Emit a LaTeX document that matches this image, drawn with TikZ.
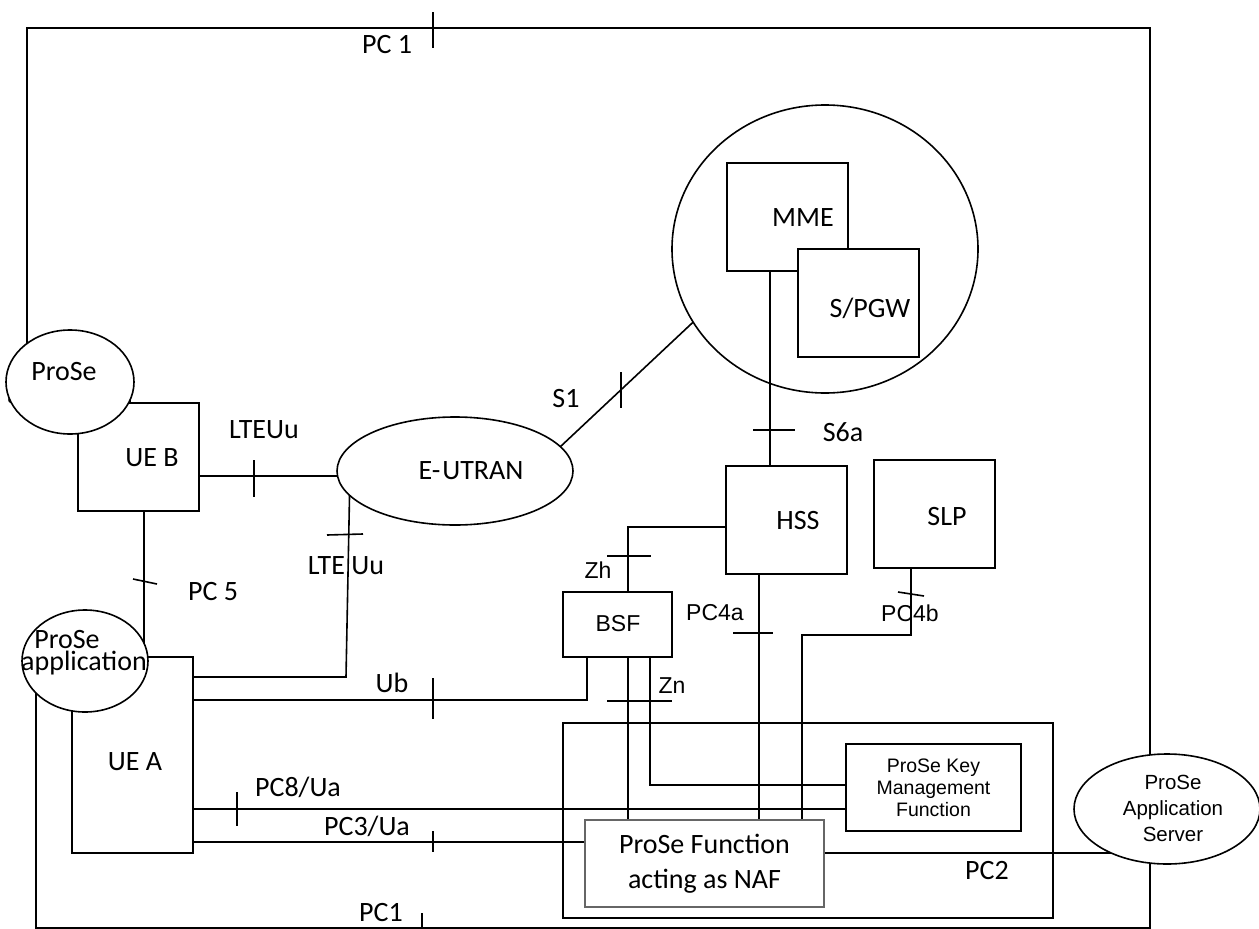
\documentclass[tikz,border=0pt]{standalone}
\usepackage{fontspec}
\setmainfont{Carlito}
\newfontfamily\arialf{Liberation Sans}
\usetikzlibrary{shapes.geometric}
\pgfdeclarelayer{bg}
\pgfsetlayers{bg,main}
\begin{document}
\begin{tikzpicture}[x=1pt,y=-1pt,
  every node/.style={inner sep=0pt,outer sep=0pt},
  conn/.style={line width=1.6pt},
  tickmark/.style={line width=1.6pt},
  boxnode/.style={draw,line width=1.6pt,fill=white,rectangle,inner sep=0pt},
  ellnode/.style={draw,line width=1.6pt,fill=white,ellipse,inner sep=0pt},
  cal/.style={font=\fontsize{28}{30}\selectfont},
  ar/.style={font=\arialf\fontsize{23}{26}\selectfont}]
\useasboundingbox (0,0) rectangle (1259,929);

% UE B with its ProSe application
\node[cal,anchor=base] (appBtxt) at (70,403) {application};
\node[boxnode,minimum width=121pt,minimum height=108pt] (ueb) at (138.5,457) {};
\node[ellnode,minimum width=128pt,minimum height=104pt] (ellB) at (70,382) {};
\node[cal,anchor=base] (proseB) at (64,380) {ProSe};
\node[cal] (uebtxt) at (152,458) {UE B};

% UE A with its ProSe application
\node[boxnode,minimum width=121pt,minimum height=196pt] (uea) at (132.5,755) {};
\node[ellnode,minimum width=126pt,minimum height=102pt] (ellA) at (85,661) {};
\node[cal,anchor=base] (proseA) at (67,648) {ProSe};
\node[cal,anchor=base] (appA) at (84,670) {application};
\node[cal] (ueatxt) at (135,762) {UE A};

% E-UTRAN
\node[ellnode,minimum width=236pt,minimum height=108pt] (eutran) at (455,471) {};
\node[cal] (eutrantxt) at (471,471) {E-\kern2pt UTRAN};

% core network
\node[draw,ellipse,line width=1.6pt,inner sep=0pt,minimum width=306pt,minimum height=288pt] (core) at (825,249) {};
\node[boxnode,minimum width=121pt,minimum height=108pt] (mme) at (787.5,217) {};
\node[cal] (mmetxt) at (803,218) {MME};
\node[boxnode,minimum width=121pt,minimum height=108pt] (spgw) at (858.5,303) {};
\node[cal] (spgwtxt) at (870,308) {S/PGW};

% HSS, SLP, BSF
\node[boxnode,minimum width=121pt,minimum height=108pt] (hss) at (786.5,520) {};
\node[cal] (hsstxt) at (798,521) {HSS};
\node[boxnode,minimum width=121pt,minimum height=108pt] (slp) at (934.5,514) {};
\node[cal] (slptxt) at (947,517) {SLP};
\node[boxnode,minimum width=109pt,minimum height=65pt] (bsf) at (617.5,624.5) {};
\node[ar] (bsftxt) at (618,624) {BSF};

% ProSe function container
\node[draw,rectangle,line width=1.6pt,minimum width=490pt,minimum height=195pt] (cont) at (808,820.5) {};
\node[boxnode,minimum width=175pt,minimum height=87pt,align=center,font=\arialf\fontsize{19.5}{22}\selectfont] (pkmf) at (933.5,787.5) {ProSe Key\\Management\\Function};
\node[boxnode,draw=gray!80!black,line width=1.2pt,minimum width=239pt,minimum height=87pt,align=center,font=\fontsize{28}{35}\selectfont] (pf) at (704.5,863.5) {ProSe Function\\acting as NAF};

% application server
\node[ellnode,minimum width=186pt,minimum height=110pt] (as) at (1167,809) {};
\node[align=center,font=\arialf\fontsize{20.5}{26}\selectfont] (astxt) at (1173,808) {ProSe\\Application\\Server};

\coordinate (c1tr) at (1150,28);
\coordinate (c1br) at (1150,928);
\coordinate (c4b) at (802,635);
\coordinate (uu2) at (346,677);

\begin{pgfonlayer}{bg}
\draw[conn] (ellB.center -| 27,0) |- (c1tr) -- (as.center -| c1tr);
\draw[conn] (ellA.center -| 36,0) |- (c1br) -- (as.center -| c1br);
\draw[conn] (ueb.east |- 0,476) -- (eutran.center |- 0,476);
\draw[conn] (uea.east |- uu2) -- (uu2) -- (eutran.center -| 350,0);
\draw[conn] (eutran.13) -- (core.209);
\draw[conn] (mme.south -| 770,0) -- (hss.north -| 770,0);
\draw[conn] (hss.west |- 0,527) -| (bsf.north -| 628,0);
\draw[conn] (bsf.south -| 587,0) |- (uea.east |- 0,700);
\draw[conn] (bsf.south -| 628,0) -- (pf.north -| 628,0);
\draw[conn] (bsf.south -| 650,0) |- (pkmf.west |- 0,785);
\draw[conn] (hss.south -| 759,0) -- (pf.north -| 759,0);
\draw[conn] (slp.south -| 911,0) |- (c4b) -- (pf.north -| c4b);
\draw[conn] (uea.east |- 0,809) -- (pkmf.west |- 0,809);
\draw[conn] (uea.east |- 0,842) -- (pf.west |- 0,842);
\draw[conn] (pf.east |- 0,853) -- (as.center |- 0,853);
\draw[conn] (ueb.south -| 144,0) -- (ellA.center -| 144,0);
\end{pgfonlayer}

% interface ticks
\draw[tickmark] (433,12) -- (433,48);
\draw[tickmark] (422,913) -- (422,928);
\draw[tickmark] (254,460) -- (254,497);
\draw[tickmark] (327,535) -- (363,534);
\draw[tickmark] (621,372) -- (621,408);
\draw[tickmark] (753,430) -- (795,430);
\draw[tickmark] (607,556) -- (651,556);
\draw[tickmark] (133,579) -- (157,584);
\draw[tickmark] (433,678) -- (433,719);
\draw[tickmark] (607,701) -- (672,701);
\draw[tickmark] (733,633) -- (773,633);
\draw[tickmark] (898,592) -- (924,596);
\draw[tickmark] (237,792) -- (237,826);
\draw[tickmark] (433,831) -- (433,852);

% interface labels
\node[cal] (lpc1t) at (387,45) {PC 1};
\node[cal] (lpc1b) at (381,913) {PC1};
\node[cal] (lltea) at (264,430) {LTEUu};
\node[cal] (llteb) at (346,566) {LTE Uu};
\node[cal] (ls1) at (566,399) {S1};
\node[cal] (ls6a) at (843,432) {S6a};
\node[ar] (lzh) at (598,570) {Zh};
\node[ar] (lpc4a) at (715,613) {PC4a};
\node[ar] (lpc4b) at (910,613) {PC4b};
\node[ar] (lzn) at (672,686) {Zn};
\node[cal] (lub) at (392,683) {Ub};
\node[cal] (lpc8) at (298,787) {PC8/Ua};
\node[cal] (lpc3) at (367,826) {PC3/Ua};
\node[cal] (lpc5) at (213,592) {PC 5};
\node[cal] (lpc2) at (987,871) {PC2};
\end{tikzpicture}
\end{document}
